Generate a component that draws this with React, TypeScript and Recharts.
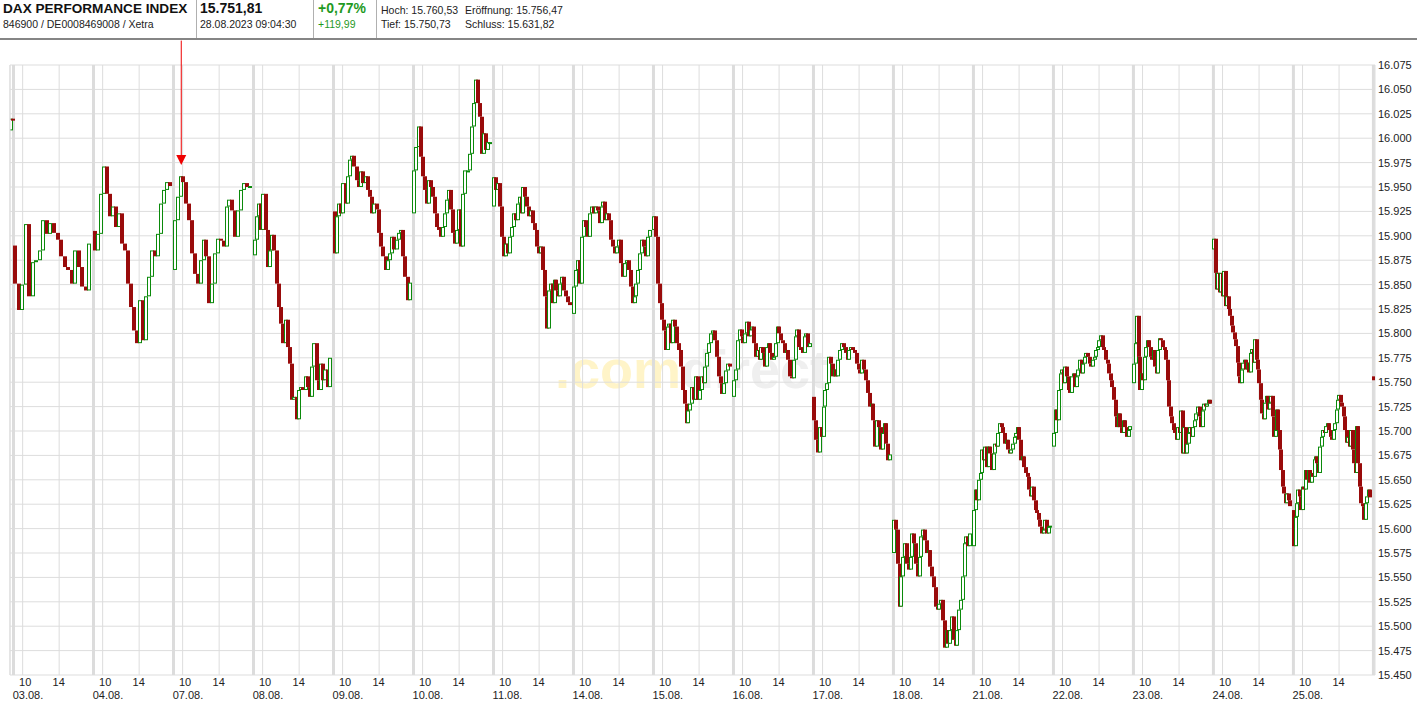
import { Bar, CartesianGrid, ComposedChart, ReferenceDot, ReferenceLine, XAxis, YAxis } from "recharts";

// trading days, values (index points), one close per slot; first value is the day's open
const d0208 = [16008, 16020, 16018];
const d0308 = [15890, 15851, 15824, 15850, 15912, 15838, 15873, 15875, 15885, 15916, 15902, 15913, 15903, 15896, 15879, 15868, 15865, 15851, 15885, 15868, 15848, 15844, 15892];
const d0408 = [15905, 15885, 15902, 15943, 15971, 15943, 15920, 15930, 15909, 15923, 15892, 15885, 15851, 15827, 15803, 15790, 15834, 15793, 15838, 15858, 15885, 15879, 15902, 15933, 15947, 15955, 15951];
const d0708 = [15865, 15916, 15940, 15961, 15955, 15933, 15916, 15882, 15861, 15851, 15875, 15896, 15879, 15831, 15851, 15882, 15897, 15895, 15889, 15930, 15937, 15926, 15899, 15926, 15947, 15954, 15950, 15951];
const d0808 = [15880, 15896, 15920, 15933, 15906, 15943, 15906, 15868, 15885, 15901, 15885, 15851, 15827, 15810, 15790, 15814, 15786, 15769, 15732, 15735, 15712, 15742, 15745, 15742, 15756, 15745, 15735, 15766, 15790, 15752, 15742, 15769, 15752, 15763, 15745, 15775];
const d0908 = [15925, 15882, 15920, 15933, 15923, 15954, 15933, 15961, 15978, 15982, 15971, 15957, 15950, 15966, 15954, 15961, 15947, 15940, 15923, 15933, 15927, 15903, 15889, 15879, 15865, 15875, 15882, 15899, 15886, 15896, 15903, 15906, 15879, 15858, 15834, 15852];
const d1008 = [15923, 15967, 15991, 16012, 15981, 15961, 15947, 15933, 15957, 15950, 15940, 15923, 15909, 15906, 15899, 15909, 15923, 15937, 15947, 15927, 15903, 15892, 15906, 15927, 15889, 15943, 15967, 15967, 15984, 16012, 16036, 16060, 16036, 16022, 15984, 16005, 15988, 15996, 15996];
const d1108 = [15930, 15960, 15947, 15954, 15930, 15899, 15879, 15892, 15882, 15899, 15909, 15923, 15916, 15933, 15940, 15923, 15950, 15940, 15930, 15920, 15926, 15913, 15906, 15889, 15882, 15889, 15865, 15838, 15805, 15844, 15851, 15831, 15855, 15844, 15838, 15851, 15858, 15844, 15838, 15832, 15829];
const d1408 = [15820, 15848, 15865, 15875, 15851, 15899, 15916, 15909, 15899, 15923, 15930, 15923, 15930, 15926, 15913, 15930, 15935, 15916, 15923, 15916, 15896, 15889, 15882, 15889, 15896, 15872, 15858, 15872, 15875, 15865, 15848, 15831, 15838, 15851, 15865, 15882, 15896, 15889, 15879, 15899, 15906];
const d1508 = [15906, 15920, 15899, 15851, 15831, 15814, 15803, 15783, 15807, 15810, 15790, 15814, 15807, 15790, 15783, 15766, 15742, 15728, 15708, 15721, 15728, 15745, 15732, 15756, 15732, 15742, 15756, 15749, 15766, 15780, 15790, 15800, 15803, 15793, 15776, 15756, 15749, 15738, 15749, 15762, 15769, 15766];
const d1608 = [15735, 15752, 15763, 15793, 15804, 15797, 15790, 15800, 15812, 15797, 15804, 15807, 15790, 15776, 15783, 15773, 15786, 15780, 15766, 15786, 15790, 15780, 15773, 15776, 15790, 15807, 15800, 15793, 15790, 15780, 15783, 15773, 15756, 15754, 15773, 15797, 15804, 15786, 15783, 15780, 15797, 15800, 15786, 15790];
const d1708 = [15735, 15711, 15691, 15678, 15704, 15694, 15725, 15742, 15749, 15776, 15769, 15756, 15763, 15756, 15773, 15783, 15790, 15786, 15780, 15773, 15783, 15786, 15783, 15780, 15769, 15763, 15759, 15773, 15763, 15752, 15739, 15725, 15728, 15711, 15684, 15711, 15704, 15681, 15698, 15708, 15687, 15670, 15676];
const d1808 = [15575, 15609, 15599, 15564, 15520, 15551, 15571, 15585, 15564, 15558, 15571, 15595, 15585, 15564, 15551, 15571, 15592, 15599, 15588, 15575, 15578, 15561, 15551, 15540, 15520, 15517, 15523, 15527, 15506, 15478, 15496, 15482, 15496, 15510, 15486, 15480, 15496, 15517, 15527, 15551, 15585, 15592, 15582, 15595];
const d2108 = [15582, 15619, 15640, 15629, 15650, 15657, 15681, 15670, 15684, 15663, 15684, 15677, 15660, 15677, 15687, 15684, 15698, 15708, 15704, 15698, 15687, 15691, 15681, 15677, 15681, 15687, 15694, 15698, 15704, 15691, 15670, 15674, 15663, 15657, 15653, 15640, 15633, 15643, 15629, 15619, 15616, 15609, 15602, 15595, 15599, 15609, 15595, 15602, 15603];
const d2208 = [15684, 15698, 15722, 15711, 15742, 15759, 15763, 15749, 15766, 15756, 15742, 15739, 15756, 15759, 15745, 15756, 15763, 15773, 15759, 15769, 15776, 15780, 15776, 15769, 15766, 15773, 15776, 15783, 15786, 15793, 15798, 15786, 15783, 15773, 15769, 15759, 15752, 15745, 15732, 15715, 15704, 15718, 15704, 15698, 15711, 15704, 15694, 15701, 15705];
const d2308 = [15749, 15769, 15790, 15818, 15776, 15742, 15759, 15752, 15776, 15786, 15793, 15786, 15776, 15773, 15783, 15766, 15759, 15783, 15795, 15793, 15786, 15783, 15773, 15752, 15725, 15715, 15708, 15701, 15698, 15691, 15704, 15698, 15721, 15677, 15704, 15677, 15687, 15698, 15704, 15694, 15704, 15711, 15718, 15725, 15715, 15704, 15721, 15728, 15725, 15728, 15732, 15728];
const d2408 = [15886, 15897, 15862, 15845, 15862, 15842, 15862, 15838, 15864, 15828, 15838, 15825, 15818, 15808, 15801, 15794, 15787, 15770, 15756, 15749, 15763, 15770, 15773, 15763, 15770, 15760, 15780, 15784, 15770, 15794, 15773, 15763, 15749, 15732, 15718, 15712, 15729, 15736, 15722, 15729, 15736, 15715, 15694, 15701, 15722, 15701, 15681, 15660, 15643, 15636, 15626, 15636, 15629, 15623];
const d2508 = [15619, 15582, 15612, 15626, 15640, 15633, 15619, 15643, 15640, 15660, 15650, 15660, 15647, 15657, 15653, 15671, 15674, 15667, 15657, 15684, 15694, 15701, 15698, 15705, 15708, 15701, 15694, 15691, 15701, 15708, 15722, 15732, 15737, 15729, 15725, 15715, 15701, 15688, 15694, 15684, 15701, 15681, 15667, 15657, 15705, 15667, 15643, 15626, 15623, 15609, 15626, 15633, 15640, 15632];
const d2808 = [15756, 15752];

const DAYS = [
  { date: "02.08.", index: -1, values: d0208, from: 17.45, to: 17.75 },
  { date: "03.08.", index: 0, values: d0308 },
  { date: "04.08.", index: 1, values: d0408 },
  { date: "07.08.", index: 2, values: d0708 },
  { date: "08.08.", index: 3, values: d0808 },
  { date: "09.08.", index: 4, values: d0908 },
  { date: "10.08.", index: 5, values: d1008 },
  { date: "11.08.", index: 6, values: d1108 },
  { date: "14.08.", index: 7, values: d1408 },
  { date: "15.08.", index: 8, values: d1508 },
  { date: "16.08.", index: 9, values: d1608 },
  { date: "17.08.", index: 10, values: d1708 },
  { date: "18.08.", index: 11, values: d1808 },
  { date: "21.08.", index: 12, values: d2108 },
  { date: "22.08.", index: 13, values: d2208 },
  { date: "23.08.", index: 14, values: d2308 },
  { date: "24.08.", index: 15, values: d2408 },
  { date: "25.08.", index: 16, values: d2508 },
  { date: "28.08.", index: 17, values: d2808, from: 9, to: 9.1 },
];

const AXIS_DAYS = ["03.08.", "04.08.", "07.08.", "08.08.", "09.08.", "10.08.", "11.08.", "14.08.", "15.08.", "16.08.", "17.08.", "18.08.", "21.08.", "22.08.", "23.08.", "24.08.", "25.08."];
const HOUR_TICKS = [10, 14];
const PRICE_TICKS = [15450, 15475, 15500, 15525, 15550, 15575, 15600, 15625, 15650, 15675, 15700, 15725, 15750, 15775, 15800, 15825, 15850, 15875, 15900, 15925, 15950, 15975, 16000, 16025, 16050, 16075];
const SIGNAL = { day: 2, hour: 9.85, price: 15972.5 };

const SESSION_SHARE = 0.97;
const X_MIN = -0.044;
const X_MAX = 17.02;
const CANDLE_W = 4;
const FONT = "'Liberation Sans', Arial, sans-serif";

type Candle = { x: number; open: number; close: number };

function toX(day: number, hour: number) {
  return day + ((hour - 9) / 8.5) * SESSION_SHARE;
}

function buildCandles(): Candle[] {
  const out: Candle[] = [];
  for (const day of DAYS) {
    const from = day.from ?? 9;
    const to = day.to ?? 17.5;
    const n = day.values.length - 1;
    for (let i = 0; i < n; i++) {
      const hour = from + ((i + 0.5) / n) * (to - from);
      out.push({ x: toX(day.index, hour), open: day.values[i], close: day.values[i + 1] });
    }
  }
  return out;
}

const candles = buildCandles();
const xTicks = AXIS_DAYS.flatMap((_, i) => HOUR_TICKS.map((h) => toX(i, h)));
const separators = Array.from({ length: AXIS_DAYS.length + 1 }, (_, i) => i);
const signalX = toX(SIGNAL.day, SIGNAL.hour);

function formatPrice(v: number) {
  const s = String(Math.round(v));
  return `${s.slice(0, -3)}.${s.slice(-3)}`;
}

function CandleShape(props: any) {
  const { x, y, width, height, payload } = props;
  if (x == null || y == null) return null;
  const cx = Math.round(x + width / 2);
  const h = Math.max(height, 1);
  if (payload.close >= payload.open) {
    return (
      <rect
        x={cx - CANDLE_W / 2 + 0.5}
        y={y + 0.5}
        width={CANDLE_W - 1}
        height={Math.max(h - 1, 1)}
        fill="#ffffff"
        stroke="#0b8a0b"
        strokeWidth={1}
      />
    );
  }
  return <rect x={cx - CANDLE_W / 2} y={y} width={CANDLE_W} height={h} fill="#990b0b" />;
}

function HourTick(props: any) {
  const { x, y, payload } = props;
  const day = Math.floor(payload.value + 0.001);
  const isTen = payload.value - day < 0.3;
  return (
    <g>
      <text x={isTen ? x + 2.5 : x - 0.5} y={y + 11} textAnchor="middle" fontSize={11} fontFamily={FONT} fill="#222">
        {isTen ? HOUR_TICKS[0] : HOUR_TICKS[1]}
      </text>
      {isTen && (
        <text x={x - 10} y={y + 24} textAnchor="start" fontSize={11} fontFamily={FONT} fill="#222">
          {AXIS_DAYS[day]}
        </text>
      )}
    </g>
  );
}

function SignalArrow(props: any) {
  const { cx, cy } = props;
  return <polygon points={`${cx - 5},${cy - 10} ${cx + 5},${cy - 10} ${cx},${cy}`} fill="#ee0000" />;
}

const smallText = { position: "absolute" as const, fontSize: 10.5, lineHeight: "12px", color: "#222", whiteSpace: "nowrap" as const };
const divider = { position: "absolute" as const, top: 0, width: 1, height: 38, background: "#b0b0b0" };

export default function App() {
  return (
    <div style={{ position: "absolute", left: 0, top: 0, width: 1417, height: 702, background: "#fff", overflow: "hidden", fontFamily: FONT }}>
      <div style={{ position: "absolute", left: 555, top: 342, fontSize: 54, lineHeight: "54px", fontWeight: 700, whiteSpace: "nowrap" }}>
        <span style={{ color: "#fff4c8" }}>.com</span>
        <span style={{ color: "#efefef" }}>direct</span>
      </div>

      <div style={{ position: "absolute", left: 0, top: 0, width: 1417, height: 40 }}>
        <span style={{ position: "absolute", left: 3, top: 1, fontSize: 13.6, lineHeight: "15px", fontWeight: 700, color: "#111" }}>DAX PERFORMANCE INDEX</span>
        <span style={{ ...smallText, left: 3, top: 18 }}>846900 / DE0008469008 / Xetra</span>
        <div style={{ ...divider, left: 196 }} />
        <span style={{ position: "absolute", left: 200, top: 1, fontSize: 14, lineHeight: "15px", fontWeight: 700, color: "#111" }}>15.751,81</span>
        <span style={{ ...smallText, left: 200, top: 18 }}>28.08.2023 09:04:30</span>
        <div style={{ ...divider, left: 313 }} />
        <span style={{ position: "absolute", left: 318, top: 1, fontSize: 14, lineHeight: "15px", fontWeight: 700, color: "#1f9a1f" }}>+0,77%</span>
        <span style={{ ...smallText, left: 318, top: 18, color: "#1f9a1f" }}>+119,99</span>
        <div style={{ ...divider, left: 376 }} />
        <span style={{ ...smallText, left: 381, top: 4 }}>Hoch: 15.760,53</span>
        <span style={{ ...smallText, left: 465, top: 4 }}>Eröffnung: 15.756,47</span>
        <span style={{ ...smallText, left: 381, top: 18 }}>Tief: 15.750,73</span>
        <span style={{ ...smallText, left: 465, top: 18 }}>Schluss: 15.631,82</span>
        <div style={{ position: "absolute", left: 0, top: 38, width: 1417, height: 2, background: "#858585" }} />
      </div>

      <div style={{ position: "absolute", left: 0, top: 0 }}>
        <ComposedChart width={1417} height={702} data={candles} margin={{ top: 65, right: 0, bottom: 0, left: 10 }}>
          <CartesianGrid stroke="#dddddd" strokeWidth={1} />
          <XAxis
            dataKey="x"
            type="number"
            domain={[X_MIN, X_MAX]}
            allowDataOverflow
            ticks={xTicks}
            interval={0}
            height={27}
            tickSize={0}
            tickMargin={0}
            axisLine={false}
            tickLine={false}
            tick={<HourTick />}
          />
          <YAxis
            orientation="right"
            type="number"
            domain={[PRICE_TICKS[0], PRICE_TICKS[PRICE_TICKS.length - 1]]}
            allowDataOverflow
            ticks={PRICE_TICKS}
            interval={0}
            width={42}
            tickSize={0}
            tickMargin={3}
            axisLine={false}
            tickLine={false}
            tickFormatter={formatPrice}
            tick={{ fontSize: 11, fontFamily: FONT, fill: "#222" }}
          />
          <ReferenceLine x={X_MIN} stroke="#dddddd" strokeWidth={1} />
          {separators.map((k) => (
            <ReferenceLine key={k} x={k} stroke="#dcdcdc" strokeWidth={3} zIndex={-50} />
          ))}
          <Bar
            dataKey={(d: Candle) => [Math.min(d.open, d.close), Math.max(d.open, d.close)]}
            barSize={3}
            shape={<CandleShape />}
            isAnimationActive={false}
          />
          <ReferenceLine
            segment={[
              { x: signalX, y: 16100 },
              { x: signalX, y: SIGNAL.price + 8 },
            ]}
            stroke="#ee0000"
            strokeWidth={1}
            ifOverflow="visible"
          />
          <ReferenceDot x={signalX} y={SIGNAL.price} shape={<SignalArrow />} ifOverflow="visible" />
        </ComposedChart>
      </div>
    </div>
  );
}
